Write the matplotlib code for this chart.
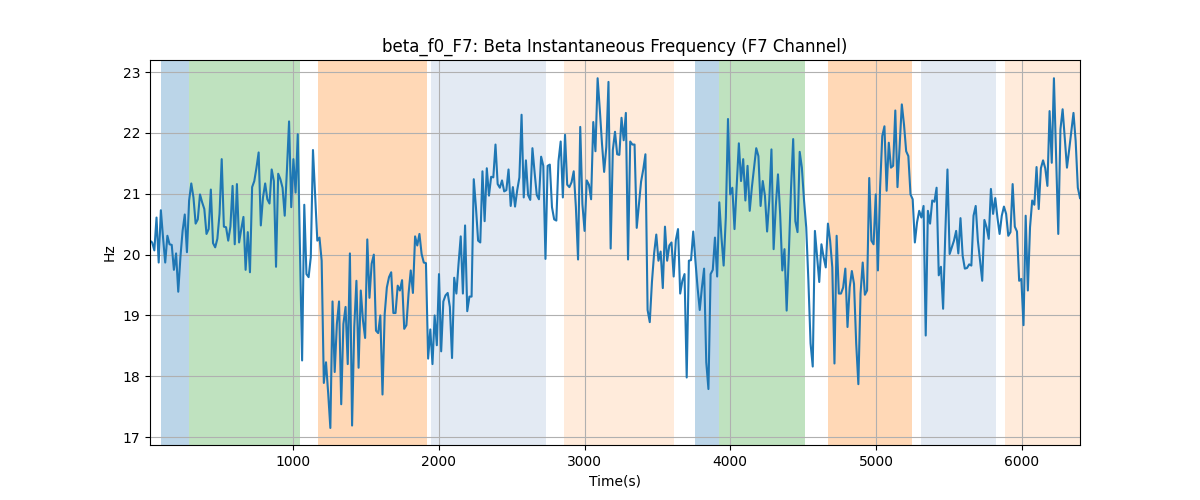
import numpy as np
import matplotlib
matplotlib.use("Agg")
import matplotlib.pyplot as plt

# Beta-Frequenz, Kanal F7 (~15 s Abstand)
freq = [
    20.23, 20.20, 20.07, 20.61, 19.87, 20.73, 20.28, 19.87, 20.31, 20.17,
    20.16, 19.75, 20.02, 19.39, 19.96, 20.39, 20.66, 20.04, 20.89, 21.17,
    20.94, 20.51, 20.58, 20.99, 20.86, 20.75, 20.34, 20.42, 21.07, 20.19,
    20.12, 20.26, 20.67, 21.57, 20.46, 20.45, 20.23, 20.46, 21.13, 20.17,
    21.16, 20.20, 20.42, 20.62, 19.75, 20.37, 19.71, 21.11, 21.21, 21.43,
    21.68, 20.48, 20.94, 21.17, 20.91, 20.84, 21.40, 21.21, 19.80, 21.33,
    21.24, 21.10,
    20.64, 21.38, 22.19, 20.78, 21.57, 21.02, 21.98, 20.12, 18.26, 20.82,
    19.68, 19.63, 19.96, 21.72, 20.99, 20.23, 20.28, 19.90, 17.89, 18.23,
    17.72, 17.15, 19.23, 18.07, 18.86, 19.23, 17.54, 18.86, 19.14, 18.20,
    20.02, 17.19, 18.81, 19.57, 18.14, 19.41, 18.92, 18.63, 20.25, 19.29,
    19.85, 20.00, 18.75, 18.71, 19.00, 17.70, 19.02, 19.46, 19.63, 19.71,
    19.04, 19.04, 19.49, 19.41, 19.58, 18.78, 18.84, 19.36, 19.74, 19.37,
    20.30, 20.15,
    20.34, 20.01, 19.87, 19.86, 18.29, 18.77, 18.20, 19.00, 18.51, 19.68,
    18.41, 19.23, 19.33, 19.37, 19.14, 18.30, 19.62, 19.36, 19.85, 20.30,
    19.36, 20.48, 19.07, 19.31, 19.31, 21.24, 20.78, 20.23, 20.20, 21.37,
    20.55, 21.42, 20.97, 21.28, 21.27, 21.81, 21.16, 21.10, 21.22, 21.04,
    21.06, 21.40, 20.80, 21.11, 20.79, 21.06, 21.27, 22.30, 20.94, 21.55,
    20.98, 20.90, 21.75, 21.35, 20.98, 20.91, 21.61, 21.46, 19.93, 21.46,
    21.48,
    20.78, 20.58, 20.56, 21.54, 21.86, 20.94, 21.97, 21.15, 21.11, 21.19,
    21.37, 20.78, 19.92, 22.10, 20.83, 20.39, 21.22, 21.15, 20.91, 22.18,
    21.70, 22.90, 22.39, 21.83, 21.36, 21.77, 22.84, 20.10, 21.72, 22.02,
    21.65, 21.64, 22.25, 21.88, 22.33, 19.92, 21.86, 21.81, 21.81, 20.44,
    20.83, 21.20, 21.40, 21.65, 19.09, 18.89, 19.55, 20.02, 20.33, 19.90,
    20.05, 19.45, 20.46, 19.90, 20.15, 20.20, 19.64, 20.24, 20.42, 19.36,
    19.57,
    19.68, 17.98, 19.90, 19.91, 20.38, 19.90, 19.46, 19.09, 19.46, 19.77,
    18.23, 17.79, 19.68, 19.75, 20.28, 19.64, 20.86, 20.28, 19.82, 20.61,
    22.23, 20.99, 21.10, 20.42, 21.13, 21.83, 21.21, 21.57, 20.89, 21.46,
    20.72, 21.11, 21.43, 21.75, 21.62, 20.80, 21.21, 20.97, 20.38, 20.89,
    21.73, 20.09, 20.80, 21.32, 20.67, 19.74, 20.09, 19.08, 20.01, 21.08,
    21.90, 20.55, 20.37, 21.69, 21.43, 20.89, 20.45, 19.57, 18.54, 18.16,
    20.39,
    19.96, 19.55, 20.17, 19.96, 19.79, 20.51, 20.23, 19.79, 18.21, 20.31,
    19.36, 19.36, 19.46, 19.77, 18.81, 19.46, 19.73, 19.52, 18.54, 17.87,
    19.36, 19.87, 19.34, 19.41, 21.26, 20.23, 20.17, 20.99, 19.74, 21.10,
    21.95, 22.11, 21.05, 21.84, 21.43, 21.46, 22.37, 21.11, 21.79, 22.47,
    22.14, 21.70, 21.62, 20.99, 20.91, 20.20, 20.53, 20.72, 20.61, 20.80,
    18.67, 20.72, 20.51, 20.89, 20.87, 21.10, 19.66, 19.80, 19.11, 20.34,
    21.40,
    20.01, 20.12, 20.23, 20.39, 20.02, 20.60, 19.98, 19.77, 19.78, 19.84,
    19.82, 20.64, 20.80, 20.23, 19.90, 19.57, 20.57, 20.45, 20.26, 21.08,
    20.67, 20.93, 20.61, 20.34, 20.64, 20.79, 20.67, 20.31, 20.37, 21.16,
    20.46, 20.38, 19.57, 19.60, 18.84, 20.64, 19.41, 20.45, 20.89, 20.82,
    21.44, 20.75, 21.42, 21.55, 21.42, 21.13, 22.36, 21.51, 22.90, 21.60,
    20.34, 22.06, 22.39, 21.92, 21.43, 21.72, 22.03, 22.33, 21.87, 21.10,
    20.93,
]
t_start, t_end = 18, 6400

# Phasen (Start, Ende, Farbe, Alpha)
phase_start = [94, 286, 1172, 1947, 2860, 3759, 3924, 4672, 5310, 5887]
phase_end = [286, 1048, 1920, 2736, 3615, 3924, 4514, 5248, 5825, 6400]
phase_color = ["tab:blue", "tab:green", "tab:orange", "lightsteelblue", "tab:orange",
               "tab:blue", "tab:green", "tab:orange", "lightsteelblue", "tab:orange"]
phase_alpha = [0.3, 0.3, 0.3, 0.35, 0.15, 0.3, 0.3, 0.3, 0.35, 0.15]

zeit = np.linspace(t_start, t_end, len(freq))

fig, ax = plt.subplots(figsize=(12, 5), dpi=100)
for s, e, c, a in zip(phase_start, phase_end, phase_color, phase_alpha):
    ax.axvspan(s, e, color=c, alpha=a, linewidth=0)
ax.plot(zeit, freq, color="tab:blue", linewidth=1.5)

ax.set_title("beta_f0_F7: Beta Instantaneous Frequency (F7 Channel)")
ax.set_xlabel("Time(s)")
ax.set_ylabel("Hz")
ax.set_xlim(t_start, t_end)
ax.set_ylim(16.87, 23.2)
ax.grid(True)

plt.savefig("out.png")
plt.close()
